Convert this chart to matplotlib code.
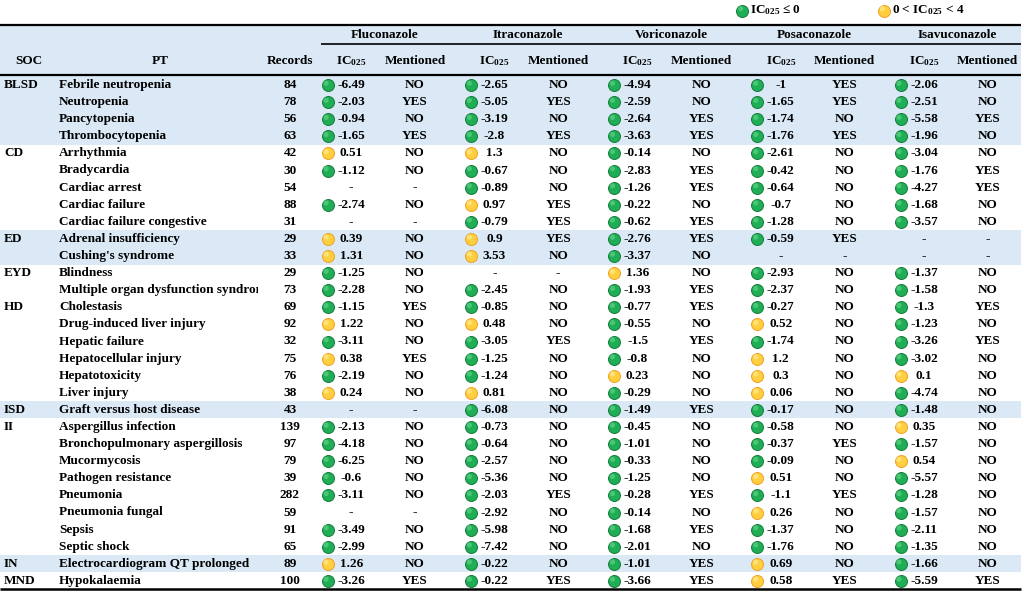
import numpy as np
import matplotlib
matplotlib.use("Agg")
import matplotlib.pyplot as plt
from matplotlib.patches import Rectangle
from matplotlib.transforms import Bbox, TransformedBbox

# ---------------- data ----------------
soc_labels = ["BLSD", "CD", "ED", "EYD", "HD", "ISD", "II", "IN", "MND"]
soc_sizes = [4, 5, 2, 2, 6, 1, 8, 1, 1]
soc_shaded = [True, False, True, False, False, True, False, True, False]

pt_labels = [
    "Febrile neutropenia", "Neutropenia", "Pancytopenia", "Thrombocytopenia",
    "Arrhythmia", "Bradycardia", "Cardiac arrest", "Cardiac failure",
    "Cardiac failure congestive",
    "Adrenal insufficiency", "Cushing's syndrome",
    "Blindness", "Multiple organ dysfunction syndrome",
    "Cholestasis", "Drug-induced liver injury", "Hepatic failure",
    "Hepatocellular injury", "Hepatotoxicity", "Liver injury",
    "Graft versus host disease",
    "Aspergillus infection", "Bronchopulmonary aspergillosis", "Mucormycosis",
    "Pathogen resistance", "Pneumonia", "Pneumonia fungal", "Sepsis", "Septic shock",
    "Electrocardiogram QT prolonged",
    "Hypokalaemia",
]
records = [84, 78, 56, 63, 42, 30, 54, 88, 31, 29, 33, 29, 73, 69, 92, 32, 75, 76,
           38, 43, 139, 97, 79, 39, 282, 59, 91, 65, 89, 100]

drugs = ["Fluconazole", "Itraconazole", "Voriconazole", "Posaconazole", "Isavuconazole"]

N = None
ic_fluconazole = [-6.49, -2.03, -0.94, -1.65, 0.51, -1.12, N, -2.74, N, 0.39, 1.31,
                  -1.25, -2.28, -1.15, 1.22, -3.11, 0.38, -2.19, 0.24, N, -2.13, -4.18,
                  -6.25, -0.6, -3.11, N, -3.49, -2.99, 1.26, -3.26]
ic_itraconazole = [-2.65, -5.05, -3.19, -2.8, 1.3, -0.67, -0.89, 0.97, -0.79, 0.9, 3.53,
                   N, -2.45, -0.85, 0.48, -3.05, -1.25, -1.24, 0.81, -6.08, -0.73, -0.64,
                   -2.57, -5.36, -2.03, -2.92, -5.98, -7.42, -0.22, -0.22]
ic_voriconazole = [-4.94, -2.59, -2.64, -3.63, -0.14, -2.83, -1.26, -0.22, -0.62, -2.76,
                   -3.37, 1.36, -1.93, -0.77, -0.55, -1.5, -0.8, 0.23, -0.29, -1.49, -0.45,
                   -1.01, -0.33, -1.25, -0.28, -0.14, -1.68, -2.01, -1.01, -3.66]
ic_posaconazole = [-1, -1.65, -1.74, -1.76, -2.61, -0.42, -0.64, -0.7, -1.28, -0.59, N,
                   -2.93, -2.37, -0.27, 0.52, -1.74, 1.2, 0.3, 0.06, -0.17, -0.58, -0.37,
                   -0.09, 0.51, -1.1, 0.26, -1.37, -1.76, 0.69, 0.58]
ic_isavuconazole = [-2.06, -2.51, -5.58, -1.96, -3.04, -1.76, -4.27, -1.68, -3.57, N, N,
                    -1.37, -1.58, -1.3, -1.23, -3.26, -3.02, 0.1, -4.74, -1.48, 0.35, -1.57,
                    0.54, -5.57, -1.28, -1.57, -2.11, -1.35, -1.66, -5.59]

men_fluconazole = ["NO", "YES", "NO", "YES", "NO", "NO", "-", "NO", "-", "NO", "NO",
                   "NO", "NO", "YES", "NO", "NO", "YES", "NO", "NO", "-", "NO", "NO",
                   "NO", "NO", "NO", "-", "NO", "NO", "NO", "YES"]
men_itraconazole = ["NO", "YES", "NO", "YES", "NO", "NO", "NO", "YES", "YES", "YES", "NO",
                    "-", "NO", "NO", "NO", "YES", "NO", "NO", "NO", "NO", "NO", "NO",
                    "NO", "NO", "YES", "NO", "NO", "NO", "NO", "YES"]
men_voriconazole = ["NO", "NO", "YES", "YES", "NO", "YES", "YES", "NO", "YES", "YES", "NO",
                    "NO", "YES", "YES", "NO", "YES", "NO", "NO", "NO", "YES", "NO", "NO",
                    "NO", "NO", "YES", "NO", "YES", "NO", "YES", "YES"]
men_posaconazole = ["YES", "YES", "NO", "YES", "NO", "NO", "NO", "NO", "NO", "YES", "-",
                    "NO", "NO", "NO", "NO", "NO", "NO", "NO", "NO", "NO", "NO", "YES",
                    "NO", "NO", "YES", "NO", "NO", "NO", "NO", "YES"]
men_isavuconazole = ["NO", "NO", "YES", "NO", "NO", "YES", "YES", "NO", "NO", "-", "-",
                     "NO", "NO", "YES", "NO", "YES", "NO", "NO", "NO", "NO", "NO", "NO",
                     "NO", "NO", "NO", "NO", "NO", "NO", "NO", "YES"]

ic_values = [ic_fluconazole, ic_itraconazole, ic_voriconazole, ic_posaconazole, ic_isavuconazole]
mentioned = [men_fluconazole, men_itraconazole, men_voriconazole, men_posaconazole, men_isavuconazole]

# ---------------- style ----------------
plt.rcParams["font.family"] = ["Liberation Serif", "DejaVu Serif"]
plt.rcParams["font.weight"] = "bold"
plt.rcParams["mathtext.fontset"] = "custom"
plt.rcParams["mathtext.rm"] = "Liberation Serif:bold"
plt.rcParams["mathtext.it"] = "Liberation Serif:bold"
plt.rcParams["mathtext.bf"] = "Liberation Serif:bold"

FS = 9.5
SHADE = "#dbe9f6"
GREEN, GREEN_E, GREEN_H = "#1fae55", "#137a3a", "#6fdc8f"
YEL, YEL_E, YEL_H = "#ffcf3f", "#f0a020", "#fff2a8"

W, H = 1024, 592
fig = plt.figure(figsize=(W / 100, H / 100), dpi=100)
ax = fig.add_axes([0, 0, 1, 1])
ax.set_xlim(0, W)
ax.set_ylim(H, 0)
ax.axis("off")

ROW0, ROWH = 85.0, 17.1
X_SOC, X_PT, X_REC = 4, 59, 290
G0, GW = 327.7, 143.2
OFF_VAL, OFF_MEN, OFF_HEAD = 23.5, 87.3, 57.0
TABLE_R = 1021

def row_y(i):
    return ROW0 + i * ROWH

# header shading
ax.add_patch(Rectangle((0, 26), TABLE_R, 48.5, facecolor=SHADE, edgecolor="none", zorder=0))
# row shading
start = 0
for lab, n, sh in zip(soc_labels, soc_sizes, soc_shaded):
    if sh:
        y0 = row_y(start) - ROWH / 2
        ax.add_patch(Rectangle((0, y0), TABLE_R, n * ROWH, facecolor=SHADE,
                               edgecolor="none", zorder=0))
    ax.text(X_SOC, row_y(start), lab, fontsize=FS, ha="left", va="center")
    start += n

# rules
ax.plot([0, TABLE_R], [25, 25], color="black", lw=1.6, solid_capstyle="butt")
ax.plot([0, TABLE_R], [74.8, 74.8], color="black", lw=1.6, solid_capstyle="butt")
ax.plot([0, TABLE_R], [589, 589], color="black", lw=1.8, solid_capstyle="butt")
ax.plot([321, TABLE_R], [43.5, 43.5], color="black", lw=1.2, solid_capstyle="butt")

# header texts
HY1, HY2 = 35.5, 61
ax.text(29, HY2, "SOC", fontsize=FS, ha="center", va="center")
ax.text(160, HY2, "PT", fontsize=FS, ha="center", va="center")
ax.text(X_REC, HY2, "Records", fontsize=FS, ha="center", va="center")
for k, d in enumerate(drugs):
    gx = G0 + k * GW
    ax.text(gx + OFF_HEAD, HY1, d, fontsize=FS, ha="center", va="center")
    ax.text(gx + OFF_VAL, HY2, r"IC$_{025}$", fontsize=FS, ha="center", va="center")
    ax.text(gx + OFF_MEN, HY2, "Mentioned", fontsize=FS, ha="center", va="center")

# body (PT column is clipped at its right edge, as in the source table)
clip_box = TransformedBbox(Bbox.from_extents(0, 0, 258, H), ax.transData)
for i, (pt, rec) in enumerate(zip(pt_labels, records)):
    y = row_y(i)
    t = ax.text(X_PT, y, pt, fontsize=FS, ha="left", va="center")
    t.set_clip_on(True)
    t.set_clip_path(None)
    t.set_clip_box(clip_box)
    ax.text(X_REC, y, str(rec), fontsize=FS, ha="center", va="center")

def dot(x, y, pos):
    fc, ec, hc = (GREEN, GREEN_E, GREEN_H) if not pos else (YEL, YEL_E, YEL_H)
    ax.scatter([x], [y], s=74, facecolor=fc, edgecolor=ec, linewidth=0.7, zorder=3)
    ax.scatter([x - 1.6], [y - 1.8], s=14, facecolor=hc, edgecolor="none",
               alpha=0.55, zorder=4)

for k in range(len(drugs)):
    gx = G0 + k * GW
    for i in range(len(pt_labels)):
        y = row_y(i)
        v = ic_values[k][i]
        if v is None:
            ax.text(gx + OFF_VAL, y, "-", fontsize=FS, ha="center", va="center")
        else:
            dot(gx, y, v > 0)
            ax.text(gx + OFF_VAL, y, f"{v:g}", fontsize=FS, ha="center", va="center")
        ax.text(gx + OFF_MEN, y, mentioned[k][i], fontsize=FS, ha="center", va="center")

# legend
dot(742.3, 10.5, False)
ax.text(750.5, 10.5, r"IC$_{025}$ ≤ 0", fontsize=FS, ha="left", va="center")
dot(884, 10.5, True)
ax.text(891.5, 10.5, r"0 < IC$_{025}$ < 4", fontsize=FS, ha="left", va="center")

fig.savefig("out.png", dpi=100, facecolor="white")
